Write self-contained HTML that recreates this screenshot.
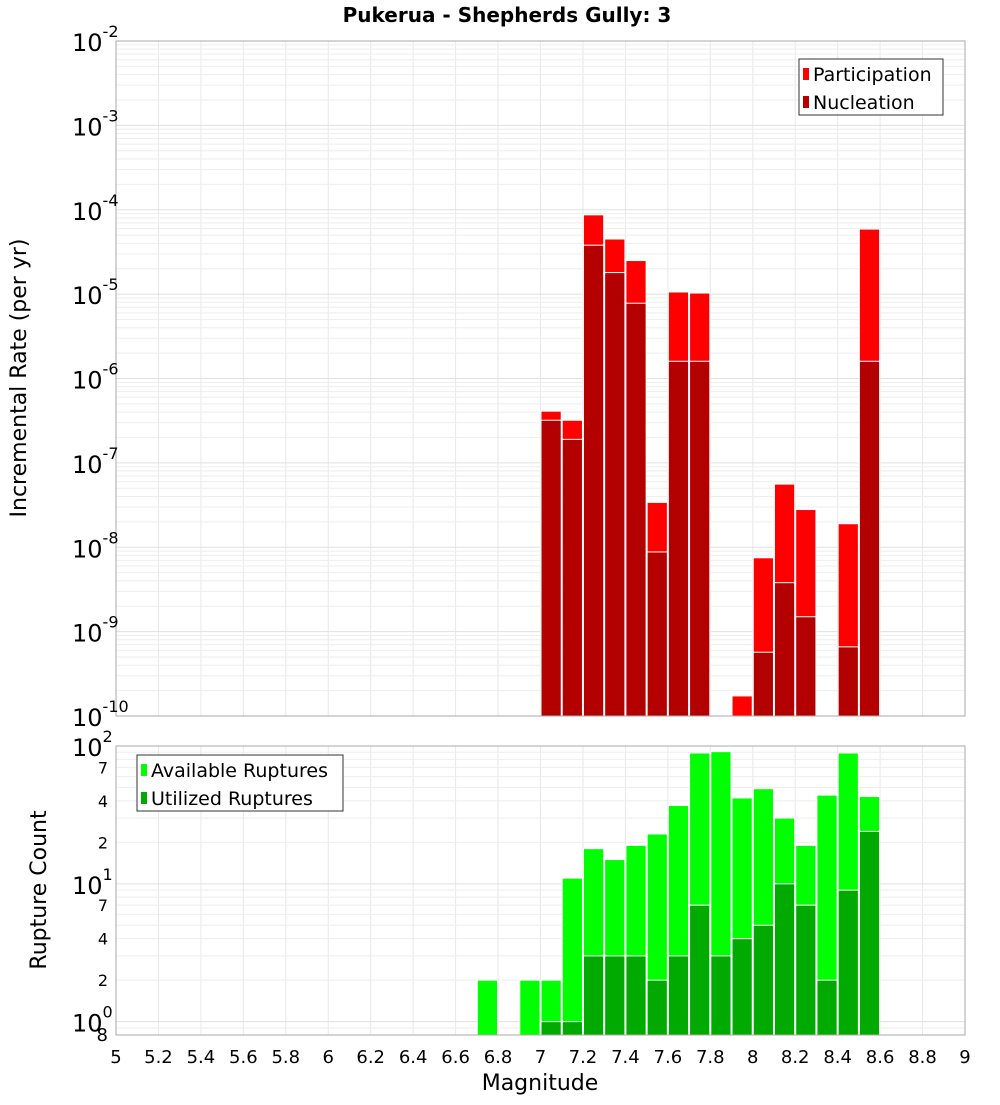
<!DOCTYPE html>
<html><head><meta charset="utf-8"><style>
body{margin:0;background:#fff}
svg text{font-family:"DejaVu Sans","Liberation Sans",sans-serif}
</style></head><body>
<svg id="c" width="1000" height="1100" xmlns="http://www.w3.org/2000/svg">
<text x="507" y="22" text-anchor="middle" font-size="20" font-weight="bold">Pukerua - Shepherds Gully: 3</text>
<text transform="translate(26,378) rotate(-90)" text-anchor="middle" font-size="22">Incremental Rate (per yr)</text>
<text transform="translate(46,890) rotate(-90)" text-anchor="middle" font-size="22">Rupture Count</text>
<text x="540" y="1090" text-anchor="middle" font-size="22">Magnitude</text>
<g id="g"></g>
</svg>
<script>
const mags=[7.0,7.1,7.2,7.3,7.4,7.5,7.6,7.7,7.9,8.0,8.1,8.2,8.4,8.5];
const participation=[4.1e-7,3.2e-7,8.7e-5,4.5e-5,2.5e-5,3.4e-8,1.06e-5,1.03e-5,1.73e-10,7.5e-9,5.6e-8,2.8e-8,1.9e-8,5.9e-5];
const nucleation=[3.2e-7,1.9e-7,3.8e-5,1.8e-5,7.8e-6,8.8e-9,1.6e-6,1.6e-6,0,5.7e-10,3.8e-9,1.5e-9,6.6e-10,1.6e-6];
const countMags=[6.7,6.9,7.0,7.1,7.2,7.3,7.4,7.5,7.6,7.7,7.8,7.9,8.0,8.1,8.2,8.3,8.4,8.5];
const available=[2,2,2,11,18,15,19,23,37,89,91,42,49,30,19,44,89,43];
const utilized=[0,0,1,1,3,3,3,2,3,7,3,4,5,10,7,2,9,24];
const xTicks=[5,5.2,5.4,5.6,5.8,6,6.2,6.4,6.6,6.8,7,7.2,7.4,7.6,7.8,8,8.2,8.4,8.6,8.8,9];
const topExps=[-2,-3,-4,-5,-6,-7,-8,-9,-10];
const botMinor=[2,4,7];

const NS="http://www.w3.org/2000/svg",G=document.getElementById('g');
const L=116,R=965;
const x=m=>L+(m-5)/4*(R-L);
const T1=41,B1=716,yTop=v=>T1+(-2-Math.log10(v))/8*(B1-T1);
const T2=746,B2=1035,lmin=Math.log10(0.8),yBot=v=>T2+(2-Math.log10(v))/(2-lmin)*(B2-T2);
function el(t,a,txt){const e=document.createElementNS(NS,t);for(const k in a)e.setAttribute(k,a[k]);if(txt!==undefined)e.textContent=txt;G.appendChild(e);return e;}

// panels
[[T1,B1],[T2,B2]].forEach(([t,b],pi)=>{
  const p=el('rect',{x:L,y:t,width:R-L,height:b-t,fill:'#fff',stroke:'none'});
  
  
  xTicks.forEach(m=>{const l=el('line',{x1:x(m),x2:x(m),y1:t,y2:b,stroke:'#e8e8e8'});
    
    });
});
for(let e=-10;e<-2;e++)for(let k=1;k<10;k++){const y=yTop(k*Math.pow(10,e));
  const l=el('line',{x1:L,x2:R,y1:y,y2:y,stroke:k==1?'#e0e0e0':'#eeeeee'});
  
  }
for(let e=-1;e<2;e++)for(let k=1;k<10;k++){const v=k*Math.pow(10,e);if(v<0.8)continue;const y=yBot(v);
  const l=el('line',{x1:L,x2:R,y1:y,y2:y,stroke:k==1?'#e0e0e0':'#eeeeee'});
  
  }

function bar(m,v,y,base,fill,name){
  if(!v)return;const yy=y(v);
  const r=el('rect',{x:x(m)+0.5,y:yy,width:x(m+0.1)-x(m)-1,height:base-yy,fill:fill,stroke:'#fff','stroke-width':1});
  
  
}
mags.forEach((m,i)=>{bar(m,participation[i],yTop,B1,'#ff0000','participation-bar');bar(m,nucleation[i],yTop,B1,'#b30000','nucleation-bar');});
countMags.forEach((m,i)=>{bar(m,available[i],yBot,B2,'#00ff00','available-bar');bar(m,utilized[i],yBot,B2,'#00aa00','utilized-bar');});

[[T1,B1],[T2,B2]].forEach(([t,b])=>{const f=el('rect',{x:L,y:t,width:R-L,height:b-t,fill:'none',stroke:'#aaa'});
  
  });

// x ticks
xTicks.forEach(m=>{const t=el('text',{x:x(m),y:1063,'text-anchor':'middle','font-size':18},String(m));
  
  });
// top y labels
topExps.forEach(e=>{const y=yTop(Math.pow(10,e));
  const t=el('text',{x:72,y:y+10,'font-size':24});t.textContent='10';
  const s=document.createElementNS(NS,'tspan');s.setAttribute('dy','-14');s.setAttribute('font-size','16');s.textContent=String(e);t.appendChild(s);
  
  });
// bottom y labels
[0,1,2].forEach(e=>{const y=yBot(Math.pow(10,e));
  const t=el('text',{x:72,y:y+10,'font-size':24});t.textContent='10';
  const s=document.createElementNS(NS,'tspan');s.setAttribute('dy','-14');s.setAttribute('font-size','16');s.textContent=String(e);t.appendChild(s);
  
  
  if(e<2)botMinor.forEach(k=>{const tt=el('text',{x:108,y:yBot(k*Math.pow(10,e))+6,'font-size':16,'text-anchor':'end'},String(k));
    
    });});
const t8=el('text',{x:108,y:1041,'font-size':18,'text-anchor':'end'},'8');



// legends
function legend(x0,y0,w,items,name){
  const g=el('rect',{x:x0,y:y0,width:w,height:56,fill:'#fff',stroke:'#333'});
  
  
  items.forEach(([c,l],i)=>{const yy=y0+15+i*28;
    const s=el('rect',{x:x0+4,y:yy-6,width:6,height:12,fill:c});
    
    
    const t=el('text',{x:x0+14,y:yy+7,'font-size':19},l);
    
    });
}
legend(799,59,144,[['#ff0000','Participation'],['#b30000','Nucleation']],'rate-legend');
legend(137,755,206,[['#00ff00','Available Ruptures'],['#00aa00','Utilized Ruptures']],'count-legend');
</script>
</body></html>
